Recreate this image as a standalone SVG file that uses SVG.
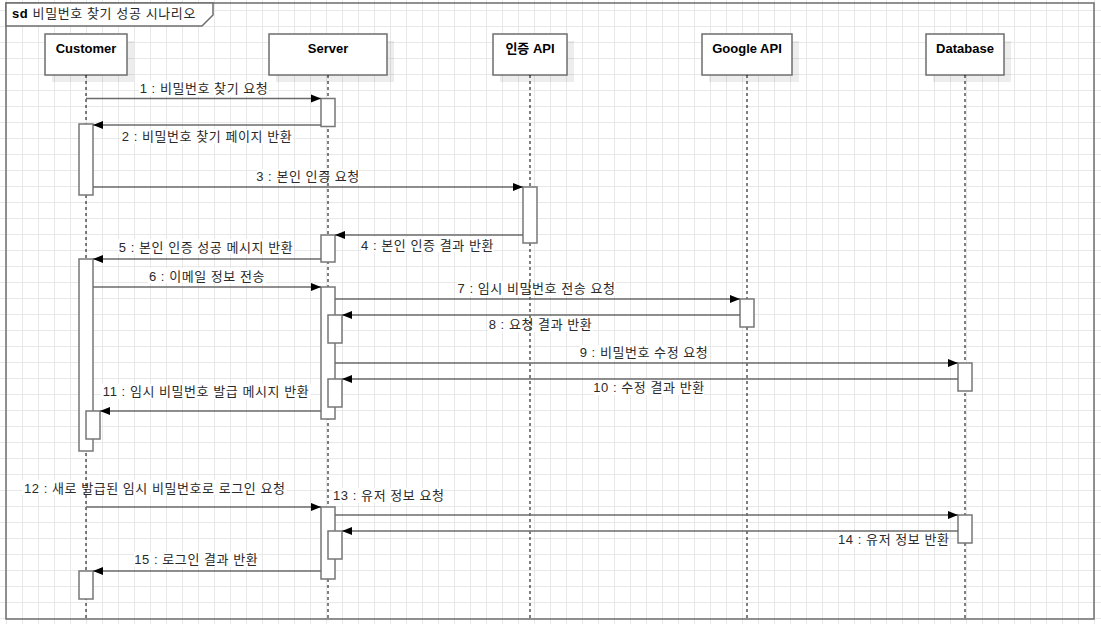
<svg xmlns="http://www.w3.org/2000/svg" width="1101" height="624" viewBox="0 0 1101 624">
<style>
text{font-family:"Liberation Sans","Noto Sans CJK KR",sans-serif;font-size:13px;fill:#2a2a2a}
.pname{font-weight:bold;text-anchor:middle;fill:#000}
.lbl{text-anchor:middle;letter-spacing:0.55px}
.ttl{letter-spacing:0.6px}
.box{fill:#fff;stroke:#6e6e6e;stroke-width:1.5}
.shadow{fill:#000;opacity:0.07}
.life{stroke:#000;stroke-width:1;stroke-dasharray:3 3;fill:none}
.act{fill:#fff;stroke:#777;stroke-width:1.5}
.msg{stroke:#6b6b6b;stroke-width:1.5;fill:none;marker-end:url(#arr)}
.lbg{fill:#fff}
</style>
<defs>
<pattern id="grid" patternUnits="userSpaceOnUse" x="6" y="10" width="16" height="16">
<path d="M0 0.5H16M0.5 0V16" stroke="#e8e8e8" stroke-width="1" fill="none"/>
</pattern>
<marker id="arr" markerUnits="userSpaceOnUse" markerWidth="11" markerHeight="9" refX="10.5" refY="4.5" orient="auto">
<path d="M0.5,0.5 L10.5,4.5 L0.5,8.5 Z" fill="#000"/>
</marker>
</defs>
<rect width="1101" height="624" fill="#fff"/>
<rect width="1101" height="624" fill="url(#grid)"/>
<g id="frame">
<rect x="6" y="3" width="1088" height="616" fill="none" stroke="#6e6e6e" stroke-width="1.5"/>
<path d="M6,3 H213 V15 L202,26 H6 Z" fill="#fff" stroke="#6e6e6e" stroke-width="1.5"/>
<text class="ttl" x="12" y="18"><tspan font-weight="bold" fill="#000">sd</tspan> 비밀번호 찾기 성공 시나리오</text>
</g>
<g id="labels">
<rect class="lbg" x="139" y="81" width="130" height="15"/><text class="lbl" x="204" y="93">1 : 비밀번호 찾기 요청</text>
<rect class="lbg" x="121" y="129" width="172" height="15"/><text class="lbl" x="207" y="141">2 : 비밀번호 찾기 페이지 반환</text>
<rect class="lbg" x="257" y="169" width="102" height="15"/><text class="lbl" x="308" y="181">3 : 본인 인증 요청</text>
<rect class="lbg" x="361" y="237" width="133" height="15"/><text class="lbl" x="427.5" y="249.5">4 : 본인 인증 결과 반환</text>
<rect class="lbg" x="118" y="239" width="176" height="15"/><text class="lbl" x="206" y="251.5">5 : 본인 인증 성공 메시지 반환</text>
<rect class="lbg" x="148" y="268" width="118" height="15"/><text class="lbl" x="207" y="280.5">6 : 이메일 정보 전송</text>
<rect class="lbg" x="457" y="281" width="159" height="15"/><text class="lbl" x="536.5" y="293">7 : 임시 비밀번호 전송 요청</text>
<rect class="lbg" x="488" y="317" width="105" height="15"/><text class="lbl" x="540.5" y="329">8 : 요청 결과 반환</text>
<rect class="lbg" x="580" y="345" width="128" height="15"/><text class="lbl" x="644" y="357">9 : 비밀번호 수정 요청</text>
<rect class="lbg" x="594" y="380" width="110" height="15"/><text class="lbl" x="649" y="392">10 : 수정 결과 반환</text>
<rect class="lbg" x="101" y="384" width="210" height="15"/><text class="lbl" x="206" y="396">11 : 임시 비밀번호 발급 메시지 반환</text>
<rect class="lbg" x="22" y="480" width="265" height="15"/><text class="lbl" x="154.7" y="492.5">12 : 새로 발급된 임시 비밀번호로 로그인 요청</text>
<rect class="lbg" x="333" y="488" width="111" height="15"/><text class="lbl" x="388.8" y="500">13 : 유저 정보 요청</text>
<rect class="lbg" x="838" y="532" width="111" height="15"/><text class="lbl" x="893.8" y="544">14 : 유저 정보 반환</text>
<rect class="lbg" x="134" y="552" width="124" height="15"/><text class="lbl" x="196.3" y="564">15 : 로그인 결과 반환</text>
</g>
<g id="customer">
<rect class="shadow" x="52" y="41" width="82" height="41"/>
<rect class="box" x="45" y="34" width="82" height="41"/>
<text class="pname" x="86" y="52.5">Customer</text>
<line class="life" x1="86" y1="75" x2="86" y2="619"/>
</g>
<g id="server">
<rect class="shadow" x="276" y="41" width="118" height="41"/>
<rect class="box" x="269" y="34" width="118" height="41"/>
<text class="pname" x="328" y="52.5">Server</text>
<line class="life" x1="328" y1="75" x2="328" y2="619"/>
</g>
<g id="auth-api">
<rect class="shadow" x="500" y="41" width="74" height="41"/>
<rect class="box" x="493" y="34" width="74" height="41"/>
<text class="pname" x="530" y="52.5">인증 API</text>
<line class="life" x1="530" y1="75" x2="530" y2="619"/>
</g>
<g id="google-api">
<rect class="shadow" x="709" y="41" width="90" height="41"/>
<rect class="box" x="702" y="34" width="90" height="41"/>
<text class="pname" x="747" y="52.5">Google API</text>
<line class="life" x1="747" y1="75" x2="747" y2="619"/>
</g>
<g id="database">
<rect class="shadow" x="933" y="41" width="78" height="41"/>
<rect class="box" x="926" y="34" width="78" height="41"/>
<text class="pname" x="965" y="52.5">Database</text>
<line class="life" x1="965" y1="75" x2="965" y2="619"/>
</g>
<g id="activations">
<rect class="act" x="321" y="98.5" width="14" height="28"/>
<rect class="act" x="79" y="124" width="14" height="71"/>
<rect class="act" x="523" y="187" width="14" height="56"/>
<rect class="act" x="321" y="235" width="14" height="27"/>
<rect class="act" x="79" y="259" width="14" height="192"/>
<rect class="act" x="321" y="287" width="14" height="132"/>
<rect class="act" x="740" y="299" width="14" height="28"/>
<rect class="act" x="328" y="315" width="14" height="28"/>
<rect class="act" x="958" y="363" width="14" height="28"/>
<rect class="act" x="328" y="379" width="14" height="28"/>
<rect class="act" x="86" y="411" width="14" height="28"/>
<rect class="act" x="321" y="507" width="14" height="72"/>
<rect class="act" x="958" y="515" width="14" height="28"/>
<rect class="act" x="328" y="531" width="14" height="28"/>
<rect class="act" x="79" y="571" width="14" height="28"/>
</g>
<g id="connectors">
<line class="msg" x1="86" y1="98.5" x2="321" y2="98.5"/>
<line class="msg" x1="321" y1="125" x2="93" y2="125"/>
<line class="msg" x1="93" y1="187" x2="523" y2="187"/>
<line class="msg" x1="523" y1="235" x2="335" y2="235"/>
<line class="msg" x1="321" y1="259" x2="93" y2="259"/>
<line class="msg" x1="93" y1="287" x2="321" y2="287"/>
<line class="msg" x1="335" y1="299" x2="740" y2="299"/>
<line class="msg" x1="740" y1="315" x2="342" y2="315"/>
<line class="msg" x1="335" y1="363" x2="958" y2="363"/>
<line class="msg" x1="958" y1="379" x2="342" y2="379"/>
<line class="msg" x1="321" y1="411" x2="100" y2="411"/>
<line class="msg" x1="86" y1="507" x2="321" y2="507"/>
<line class="msg" x1="335" y1="515" x2="958" y2="515"/>
<line class="msg" x1="958" y1="531" x2="342" y2="531"/>
<line class="msg" x1="321" y1="571" x2="93" y2="571"/>
</g>
</svg>
